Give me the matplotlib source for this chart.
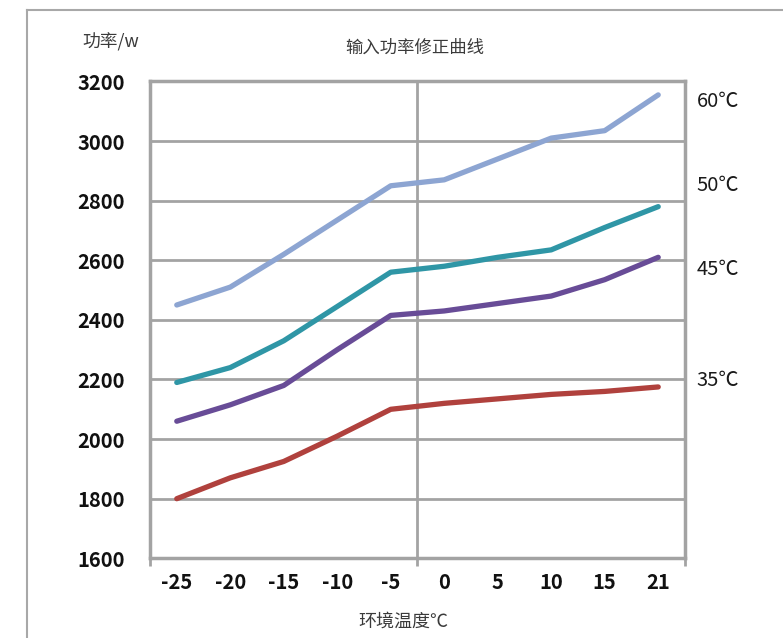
import matplotlib.pyplot as plt
from matplotlib.lines import Line2D

plt.rcParams['font.family'] = ['Noto Sans CJK SC', 'DejaVu Sans']

# ambient temperature categories (deg C)
temps = ['-25', '-20', '-15', '-10', '-5', '0', '5', '10', '15', '21']

# input power (W) for each outlet water temperature
p60 = [2450, 2510, 2620, 2735, 2850, 2870, 2940, 3010, 3035, 3155]
p50 = [2190, 2240, 2330, 2445, 2560, 2580, 2610, 2635, 2710, 2780]
p45 = [2060, 2115, 2180, 2300, 2415, 2430, 2455, 2480, 2535, 2610]
p35 = [1800, 1870, 1925, 2010, 2100, 2120, 2135, 2150, 2160, 2175]

series = [('60℃', p60, '#8da5d2'), ('50℃', p50, '#2f96a6'),
          ('45℃', p45, '#684c97'), ('35℃', p35, '#b0413d')]
label_y = [0.959, 0.781, 0.605, 0.372]

fig = plt.figure(figsize=(7.83, 6.38), dpi=100)
ax = fig.add_axes([0.1916, 0.1249, 0.6832, 0.7474])

x = list(range(len(temps)))
for name, vals, col in series:
    ax.plot(x, vals, color=col, lw=3.8, solid_capstyle='round', zorder=3)

for (name, vals, col), yy in zip(series, label_y):
    ax.text(1.022, yy, name, transform=ax.transAxes, fontsize=14.5,
            color='#1a1a1a', va='center', ha='left')

grid_col = '#a3a3a3'
ax.set_xlim(-0.5, len(temps) - 0.5)
ax.set_ylim(1600, 3200)
ax.set_yticks(range(1600, 3201, 200))
ax.set_xticks(x)
ax.set_xticklabels(temps)
ax.set_xticks([-0.5, 2, 4.5, 7, 9.5], minor=True)
ax.tick_params(axis='x', which='major', length=0, pad=10, labelsize=14.5)
ax.tick_params(axis='x', which='minor', length=6, width=2, color=grid_col)
ax.tick_params(axis='y', length=0, pad=18, labelsize=14.5)
for lab in ax.get_xticklabels() + ax.get_yticklabels():
    lab.set_fontweight('bold')
    lab.set_color('#111111')

ax.grid(axis='y', color=grid_col, lw=2)
ax.grid(axis='x', which='minor', color=grid_col, lw=2)
ax.grid(axis='x', which='major', visible=False)
for s in ax.spines.values():
    s.set_color(grid_col)
    s.set_linewidth(2.5)
ax.set_axisbelow(True)

fig.text(0.53, 0.925, '输入功率修正曲线', ha='center', va='center',
         fontsize=12.5, color='#3a3a3a')
fig.text(0.105, 0.934, '功率/w', ha='left', va='center',
         fontsize=12.8, color='#3a3a3a')
fig.text(0.515, 0.025, '环境温度℃', ha='center', va='center',
         fontsize=13, color='#3a3a3a')

# outer chart frame (left and top edges visible)
fig.add_artist(Line2D([27/783, 27/783], [0, 1 - 10/638],
                      transform=fig.transFigure, color='#a8a8a8', lw=1.5))
fig.add_artist(Line2D([27/783, 1], [1 - 10/638, 1 - 10/638],
                      transform=fig.transFigure, color='#a8a8a8', lw=1.5))

fig.savefig('out.png', dpi=100)
